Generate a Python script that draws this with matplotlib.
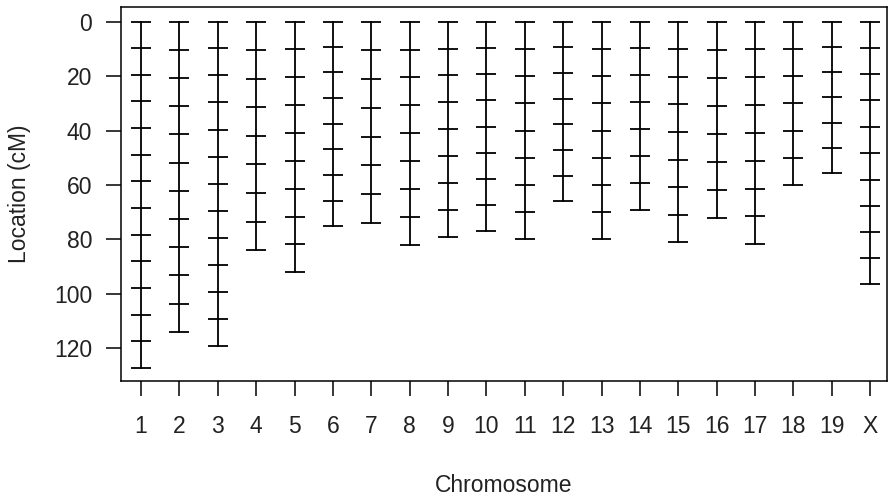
import matplotlib.pyplot as plt

plt.rcParams["font.family"] = ["Liberation Sans", "DejaVu Sans"]

# marker positions (cM) per chromosome
chr1 = [0, 9.8, 19.6, 29.2, 39.0, 48.8, 58.6, 68.4, 78.2, 88.0, 97.8, 107.6, 117.4, 127.2]
chr2 = [0, 10.4, 20.7, 31.0, 41.4, 51.8, 62.1, 72.5, 82.8, 93.2, 103.7, 114.0]
chr3 = [0, 9.8, 19.7, 29.6, 39.6, 49.6, 59.6, 69.5, 79.4, 89.4, 99.4, 109.3, 119.2]
chr4 = [0, 10.4, 21.0, 31.5, 41.9, 52.4, 63.0, 73.5, 83.7]
chr5 = [0, 10.2, 20.3, 30.6, 40.8, 51.1, 61.4, 71.7, 81.8, 92.0]
chr6 = [0, 9.3, 18.6, 28.0, 37.5, 46.8, 56.2, 65.7, 75.1]
chr7 = [0, 10.5, 21.1, 31.6, 42.3, 52.8, 63.3, 73.9]
chr8 = [0, 10.3, 20.4, 30.7, 40.9, 51.2, 61.5, 71.8, 82.1]
chr9 = [0, 9.9, 19.7, 29.6, 39.4, 49.4, 59.3, 69.2, 79.2]
chr10 = [0, 9.7, 19.2, 28.8, 38.6, 48.2, 57.8, 67.4, 77.0]
chr11 = [0, 10.0, 20.0, 30.0, 40.1, 50.0, 60.0, 70.0, 80.0]
chr12 = [0, 9.4, 18.8, 28.3, 37.7, 47.2, 56.6, 66.0]
chr13 = [0, 10.0, 20.0, 30.0, 40.1, 50.0, 60.0, 70.0, 80.0]
chr14 = [0, 9.8, 19.7, 29.5, 39.3, 49.3, 59.2, 69.1]
chr15 = [0, 10.2, 20.3, 30.4, 40.6, 50.7, 60.9, 70.9, 81.1]
chr16 = [0, 10.3, 20.6, 30.9, 41.2, 51.5, 61.8, 72.1]
chr17 = [0, 10.2, 20.3, 30.6, 40.8, 51.0, 61.3, 71.4, 81.7]
chr18 = [0, 10.0, 20.0, 30.0, 40.1, 50.0, 60.0]
chr19 = [0, 9.3, 18.5, 27.8, 37.1, 46.3, 55.6]
chrX = [0, 9.7, 19.2, 28.9, 38.6, 48.3, 58.0, 67.6, 77.2, 86.9, 96.5]

chr_names = [str(i) for i in range(1, 20)] + ["X"]
chr_markers = [chr1, chr2, chr3, chr4, chr5, chr6, chr7, chr8, chr9, chr10,
               chr11, chr12, chr13, chr14, chr15, chr16, chr17, chr18, chr19, chrX]

fig = plt.figure(figsize=(8.88, 4.97), dpi=100)
ax = fig.add_axes([0.1366, 0.2334, 0.8623, 0.7519])

half = 0.26
for i, pos in enumerate(chr_markers, start=1):
    ax.plot([i, i], [min(pos), max(pos)], color="black", lw=1.3)
    ax.hlines(pos, i - half, i + half, color="black", lw=1.3)

ax.set_xlim(0.486, 20.44)
ax.set_ylim(132.0, -5.3)
ax.set_xticks(range(1, len(chr_names) + 1))
ax.set_xticklabels(chr_names)
ax.set_yticks(range(0, 121, 20))

ax.tick_params(axis="x", length=10.8, width=1.1, pad=14, labelsize=16.5,
               labelcolor="#222222")
ax.tick_params(axis="y", length=10.5, width=1.1, pad=10.5, labelsize=16.5,
               labelcolor="#222222")
for s in ax.spines.values():
    s.set_linewidth(1.1)

fig.text(504 / 888, 1 - 485 / 497, "Chromosome", ha="center", va="center",
         fontsize=16.5, color="#222222")
fig.text(20 / 888, 1 - 194 / 497, "Location (cM)", ha="center", va="center",
         rotation=90, fontsize=16.5, color="#222222")

fig.savefig("out.png", dpi=100)
